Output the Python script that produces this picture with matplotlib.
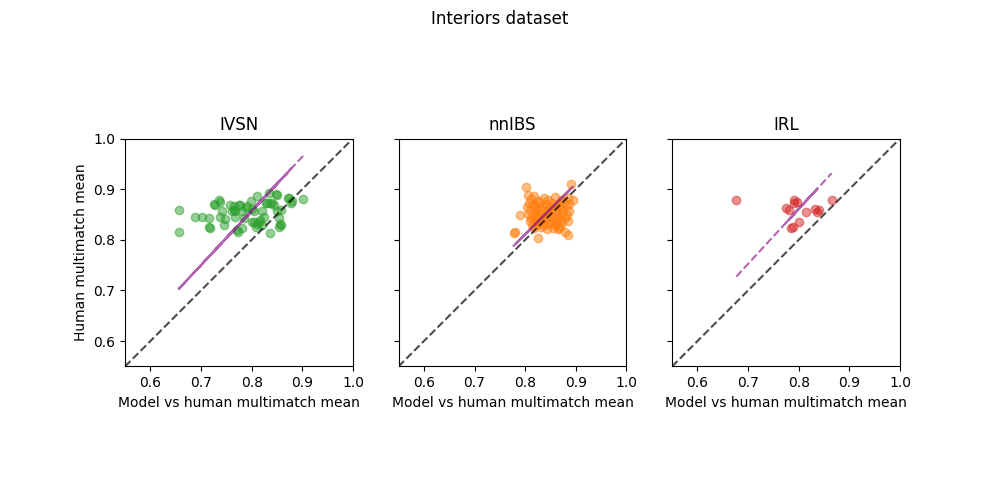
import numpy as np
import matplotlib.pyplot as plt

# model vs human multimatch means (kept in plotting order)
ivsn_x = [0.801, 0.656, 0.801, 0.656, 0.804, 0.689, 0.805, 0.702, 0.808, 0.715, 0.811,
          0.717, 0.811, 0.715, 0.814, 0.725, 0.817, 0.728, 0.821, 0.735, 0.821, 0.737,
          0.824, 0.738, 0.828, 0.742, 0.831, 0.745, 0.834, 0.747, 0.837, 0.758, 0.837,
          0.761, 0.840, 0.765, 0.844, 0.766, 0.849, 0.768, 0.851, 0.768, 0.851, 0.771,
          0.854, 0.773, 0.854, 0.775, 0.856, 0.778, 0.857, 0.781, 0.858, 0.781, 0.872,
          0.785, 0.874, 0.788, 0.877, 0.791, 0.880, 0.798, 0.902]
ivsn_y = [0.836, 0.859, 0.861, 0.816, 0.836, 0.845, 0.856, 0.846, 0.826, 0.843, 0.886,
          0.824, 0.832, 0.825, 0.836, 0.870, 0.839, 0.868, 0.829, 0.879, 0.856, 0.874,
          0.846, 0.846, 0.873, 0.856, 0.873, 0.829, 0.892, 0.841, 0.813, 0.869, 0.873,
          0.856, 0.873, 0.859, 0.869, 0.866, 0.890, 0.846, 0.856, 0.856, 0.889, 0.820,
          0.843, 0.816, 0.826, 0.869, 0.832, 0.869, 0.829, 0.856, 0.859, 0.823, 0.882,
          0.843, 0.882, 0.863, 0.873, 0.866, 0.877, 0.876, 0.881]

nnibs_x = [0.802, 0.890, 0.777, 0.884, 0.779, 0.878, 0.790, 0.894, 0.805, 0.865, 0.825, 0.818,
           0.812, 0.825, 0.838, 0.846, 0.859, 0.871, 0.884,
           0.808, 0.818, 0.829, 0.841, 0.853, 0.864, 0.877, 0.887,
           0.803, 0.815, 0.824, 0.835, 0.847, 0.858, 0.869, 0.881,
           0.810, 0.821, 0.832, 0.843, 0.852, 0.863, 0.874, 0.886,
           0.806, 0.817, 0.828, 0.839, 0.850, 0.861, 0.872, 0.883,
           0.812, 0.823, 0.834, 0.845, 0.856, 0.866, 0.878,
           0.809, 0.819, 0.830, 0.841, 0.852, 0.862, 0.873, 0.884,
           0.814, 0.826, 0.837, 0.848, 0.859, 0.869,
           0.818, 0.831, 0.843, 0.855, 0.866]
nnibs_y = [0.905, 0.911, 0.813, 0.810, 0.816, 0.816, 0.849, 0.879, 0.889, 0.821, 0.803, 0.886,
           0.881, 0.877, 0.883, 0.879, 0.884, 0.878, 0.882,
           0.872, 0.870, 0.874, 0.871, 0.873, 0.869, 0.874, 0.871,
           0.865, 0.866, 0.863, 0.867, 0.864, 0.866, 0.862, 0.866,
           0.858, 0.856, 0.859, 0.857, 0.860, 0.857, 0.859, 0.856,
           0.851, 0.850, 0.853, 0.849, 0.852, 0.850, 0.853, 0.849,
           0.844, 0.846, 0.843, 0.845, 0.842, 0.846, 0.844,
           0.837, 0.838, 0.836, 0.839, 0.835, 0.838, 0.836, 0.838,
           0.830, 0.831, 0.829, 0.832, 0.830, 0.828,
           0.823, 0.825, 0.822, 0.824, 0.823]

irl_x = [0.677, 0.800, 0.774, 0.837, 0.781, 0.832, 0.790, 0.840, 0.784, 0.814, 0.797, 0.789, 0.791, 0.865]
irl_y = [0.879, 0.836, 0.863, 0.854, 0.859, 0.861, 0.879, 0.858, 0.823, 0.854, 0.875, 0.826, 0.873, 0.879]

# fitted line (slope, intercept) per model
fits = {"IVSN": (1.07, 0.001), "nnIBS": (1.00, 0.011), "IRL": (1.085, -0.007)}

models = ["IVSN", "nnIBS", "IRL"]
xs = [ivsn_x, nnibs_x, irl_x]
ys = [ivsn_y, nnibs_y, irl_y]
colors = ["tab:green", "tab:orange", "tab:red"]

fig, axes = plt.subplots(1, 3, figsize=(10, 5), sharey=True)
fig.suptitle("Interiors dataset")

for ax, name, x, y, c in zip(axes, models, xs, ys, colors):
    x = np.array(x)
    y = np.array(y)
    ax.scatter(x, y, color=c, alpha=0.5)
    slope, intercept = fits[name]
    # x is not sorted, so the dashes pile up where the points are dense
    ax.plot(x, slope * x + intercept, linestyle="--", color="purple", alpha=0.6)
    ax.plot([0.55, 1.0], [0.55, 1.0], linestyle="--", color="black", alpha=0.7)
    ax.set_xlim(0.55, 1.0)
    ax.set_ylim(0.55, 1.0)
    ax.set_xticks([0.6, 0.7, 0.8, 0.9, 1.0])
    ax.set_yticks([0.6, 0.7, 0.8, 0.9, 1.0])
    ax.set_aspect("equal")
    ax.set_title(name)
    ax.set_xlabel("Model vs human multimatch mean")

axes[0].set_ylabel("Human multimatch mean")

fig.savefig("out.png")
